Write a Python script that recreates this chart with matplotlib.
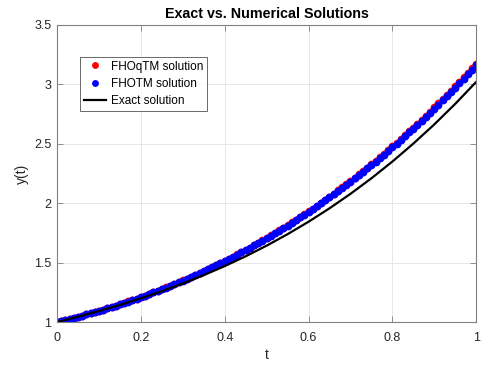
import matplotlib
matplotlib.use("Agg")
import matplotlib.pyplot as plt
import numpy as np

plt.rcParams['font.family'] = ['Liberation Sans', 'DejaVu Sans']

# time grids
t_num = np.linspace(0, 1, 101)
t_exact = np.linspace(0, 1, 21)

# FHOTM solution (blue)
y_fhotm = [
    1.0000, 1.0086, 1.0173, 1.0263, 1.0354, 1.0448, 1.0543, 1.0640, 1.0740, 1.0841,
    1.0945, 1.1051, 1.1158, 1.1268, 1.1381, 1.1495, 1.1611, 1.1730, 1.1851, 1.1974,
    1.2100, 1.2228, 1.2358, 1.2491, 1.2626, 1.2763, 1.2903, 1.3046, 1.3190, 1.3338,
    1.3488, 1.3640, 1.3795, 1.3952, 1.4113, 1.4275, 1.4441, 1.4609, 1.4780, 1.4954,
    1.5130, 1.5309, 1.5491, 1.5676, 1.5863, 1.6054, 1.6247, 1.6444, 1.6643, 1.6845,
    1.7050, 1.7258, 1.7469, 1.7683, 1.7901, 1.8121, 1.8345, 1.8571, 1.8801, 1.9034,
    1.9270, 1.9509, 1.9752, 1.9998, 2.0247, 2.0500, 2.0755, 2.1015, 2.1277, 2.1543,
    2.1813, 2.2085, 2.2362, 2.2642, 2.2925, 2.3212, 2.3502, 2.3796, 2.4094, 2.4395,
    2.4700, 2.5009, 2.5321, 2.5637, 2.5957, 2.6280, 2.6607, 2.6939, 2.7274, 2.7612,
    2.7955, 2.8302, 2.8652, 2.9007, 2.9365, 2.9727, 3.0094, 3.0464, 3.0839, 3.1217,
    3.1600,
]

# FHOqTM solution (red)
y_fhoqtm = [
    1.0000, 1.0086, 1.0173, 1.0263, 1.0354, 1.0448, 1.0543, 1.0641, 1.0741, 1.0842,
    1.0946, 1.1052, 1.1160, 1.1270, 1.1383, 1.1498, 1.1614, 1.1733, 1.1855, 1.1978,
    1.2105, 1.2233, 1.2364, 1.2497, 1.2633, 1.2771, 1.2911, 1.3055, 1.3199, 1.3348,
    1.3499, 1.3652, 1.3807, 1.3965, 1.4127, 1.4290, 1.4457, 1.4625, 1.4797, 1.4972,
    1.5149, 1.5329, 1.5512, 1.5698, 1.5886, 1.6078, 1.6272, 1.6471, 1.6671, 1.6874,
    1.7080, 1.7289, 1.7501, 1.7717, 1.7936, 1.8157, 1.8383, 1.8610, 1.8841, 1.9076,
    1.9313, 1.9554, 1.9798, 2.0046, 2.0296, 2.0551, 2.0807, 2.1069, 2.1332, 2.1600,
    2.1872, 2.2145, 2.2424, 2.2706, 2.2991, 2.3280, 2.3571, 2.3867, 2.4167, 2.4470,
    2.4777, 2.5088, 2.5402, 2.5720, 2.6042, 2.6367, 2.6696, 2.7030, 2.7367, 2.7707,
    2.8052, 2.8401, 2.8754, 2.9111, 2.9471, 2.9835, 3.0205, 3.0577, 3.0954, 3.1335,
    3.1720,
]

# exact solution (black line)
y_exact = [
    1.0000, 1.0450, 1.0930, 1.1445, 1.2000, 1.2598, 1.3246, 1.3948, 1.4709, 1.5534,
    1.6428, 1.7394, 1.8439, 1.9568, 2.0784, 2.2093, 2.3500, 2.5009, 2.6625, 2.8354,
    3.0200,
]

xticks = [0, 0.2, 0.4, 0.6, 0.8, 1]
xticklabels = ['0', '0.2', '0.4', '0.6', '0.8', '1']
yticks = [1, 1.5, 2, 2.5, 3, 3.5]
yticklabels = ['1', '1.5', '2', '2.5', '3', '3.5']

fig = plt.figure(figsize=(4.96, 3.66), dpi=100)
fig.patch.set_facecolor('white')
ax = fig.add_axes([0.115, 0.12, 0.845, 0.812])

ax.plot(t_num, y_fhoqtm, 'o', color='#ff0000', markersize=4.6, label='FHOqTM solution')
ax.plot(t_num, y_fhotm, 'o', color='#0000ff', markersize=4.6, label='FHOTM solution')
ax.plot(t_exact, y_exact, '-', color='black', linewidth=1.6, label='Exact solution')

ax.set_xlim(0, 1)
ax.set_ylim(1, 3.5)
ax.set_xticks(xticks)
ax.set_xticklabels(xticklabels)
ax.set_yticks(yticks)
ax.set_yticklabels(yticklabels)

axis_col = '#262626'
for s in ax.spines.values():
    s.set_color('#808080')
    s.set_linewidth(0.8)
ax.tick_params(direction='in', length=4, width=0.6, colors='#808080',
               labelcolor=axis_col, labelsize=9, top=True, right=True)
ax.tick_params(axis='x', pad=7)
ax.tick_params(axis='y', pad=4)

ax.grid(True, color='#e6e6e6', linewidth=0.7)
ax.set_axisbelow(True)

ax.set_xlabel('t', fontsize=10, color=axis_col, labelpad=3)
ax.set_ylabel('y(t)', fontsize=10, color=axis_col, labelpad=4)
ax.set_title('Exact vs. Numerical Solutions', fontsize=10.3, fontweight='bold',
             color='black', pad=5)

leg = ax.legend(loc='upper left', bbox_to_anchor=(0.055, 0.892), fontsize=8.5,
                frameon=True, fancybox=False, edgecolor='#262626',
                numpoints=1, markerscale=0.85,
                borderpad=0.3, labelspacing=0.45, handlelength=1.9,
                handletextpad=0.45, borderaxespad=0)
leg.get_frame().set_linewidth(0.6)

fig.savefig('out.png', dpi=100, facecolor='white')
plt.close(fig)
